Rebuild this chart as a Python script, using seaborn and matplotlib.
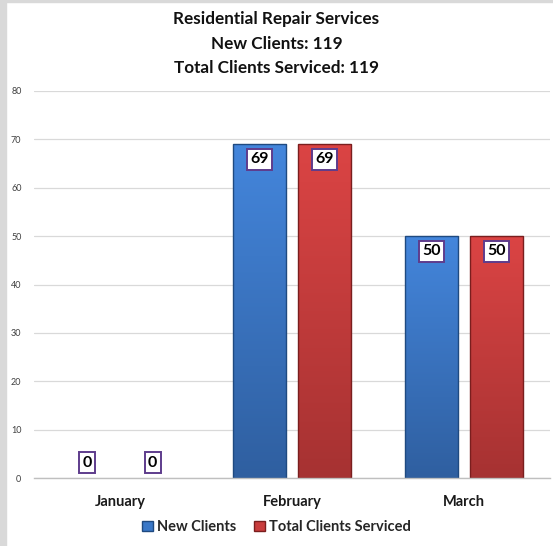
import numpy as np
import pandas as pd
import matplotlib
matplotlib.use("Agg")
import matplotlib.pyplot as plt
import matplotlib.colors as mcolors
from matplotlib.patches import Rectangle, Patch
import seaborn as sns

months = ["January", "February", "March"]
series_names = ["New Clients", "Total Clients Serviced"]
new_clients = [0, 69, 50]
total_clients = [0, 69, 50]
title_lines = ["Residential Repair Services", "New Clients: 119", "Total Clients Serviced: 119"]
y_ticks = [0, 10, 20, 30, 40, 50, 60, 70, 80]

df = pd.DataFrame({
    "Month": months * 2,
    "Series": [series_names[0]] * 3 + [series_names[1]] * 3,
    "Value": new_clients + total_clients,
})

sns.set_theme(style="white")
plt.rcParams["font.family"] = ["Lato", "DejaVu Sans"]

W, H = 553, 546
fig = plt.figure(figsize=(W / 100, H / 100), dpi=100)
ax = fig.add_axes([34 / W, 1 - 478 / H, (550 - 34) / W, (478 - 91) / H])

palette = {series_names[0]: "#3A78C8", series_names[1]: "#C93C3C"}
edges = {series_names[0]: "#1F4A80", series_names[1]: "#7A1E1E"}
grad = {series_names[0]: ("#4486DC", "#2F5FA0"), series_names[1]: ("#DB4444", "#A63232")}

sns.barplot(data=df, x="Month", y="Value", hue="Series", palette=palette,
            width=0.76, gap=0.18, ax=ax, legend=False, saturation=1)

ax.set_ylim(0, 80)
ax.set_xlim(-0.5, 2.5)
ax.set_yticks(y_ticks)
ax.set_yticklabels([str(t) for t in y_ticks], fontsize=6.5, color="#404040")
ax.tick_params(axis="y", length=0, pad=9)
ax.tick_params(axis="x", length=0, pad=12)
for lbl in ax.get_xticklabels():
    lbl.set_fontweight("bold")
    lbl.set_fontsize(10.5)
    lbl.set_color("#1a1a1a")
ax.set_xlabel("")
ax.set_ylabel("")
ax.yaxis.grid(True, color="#D9D9D9", linewidth=0.9)
ax.set_axisbelow(True)
for s in ["top", "right", "left"]:
    ax.spines[s].set_visible(False)
ax.spines["bottom"].set_color("#BFBFBF")
ax.spines["bottom"].set_linewidth(1.0)

# gradient fill + labels
for container, name in zip(ax.containers, series_names):
    c_top, c_bot = grad[name]
    cmap = mcolors.LinearSegmentedColormap.from_list("g", [c_bot, c_top])
    for bar in container:
        x0, y0 = bar.get_x(), bar.get_y()
        w, h = bar.get_width(), bar.get_height()
        if h > 0:
            bar.set_edgecolor(edges[name])
            bar.set_linewidth(1.0)
            g = np.linspace(0, 1, 256).reshape(-1, 1)
            im = ax.imshow(g, cmap=cmap, origin="lower", aspect="auto",
                           extent=(x0, x0 + w, y0, y0 + h), zorder=bar.get_zorder())
            im.set_clip_path(bar)
            bar.set_facecolor("none")
            bar.set_zorder(bar.get_zorder() + 0.1)
        else:
            bar.set_linewidth(0)
            bar.set_facecolor("none")
        val = int(round(h))
        off = -11 if h > 0 else 11
        ax.annotate(str(val), (x0 + w / 2, h), xytext=(0, off), textcoords="offset points",
                    ha="center", va="center", fontsize=11.5, fontweight="bold", color="black",
                    bbox=dict(boxstyle="square,pad=0.22", fc="white", ec="#5E3C8C", lw=1.4),
                    zorder=10)
ax.set_xlim(-0.5, 2.5)
ax.set_ylim(0, 80)

# title
for txt, yy in zip(title_lines, [19, 44, 68]):
    fig.text(0.5, 1 - yy / H, txt, ha="center", va="center", fontsize=12.3,
             fontweight="bold", color="#111111")

# legend
handles = [Patch(facecolor=palette[n], edgecolor=edges[n], label=n) for n in series_names]
fig.legend(handles=handles, loc="center", bbox_to_anchor=(0.5, 1 - 527 / H), ncol=2,
           frameon=False, prop={"weight": "bold", "size": 10.5}, handlelength=0.75,
           handleheight=0.75, handletextpad=0.3, columnspacing=1.2)

# frame strips
fig.patches.append(Rectangle((0, 0), 6 / W, 1, transform=fig.transFigure, color="#D9D9D9", zorder=0))
fig.patches.append(Rectangle((0, 1 - 2 / H), 1, 2 / H, transform=fig.transFigure, color="#D9D9D9", zorder=0))

fig.savefig("out.png", dpi=100)
